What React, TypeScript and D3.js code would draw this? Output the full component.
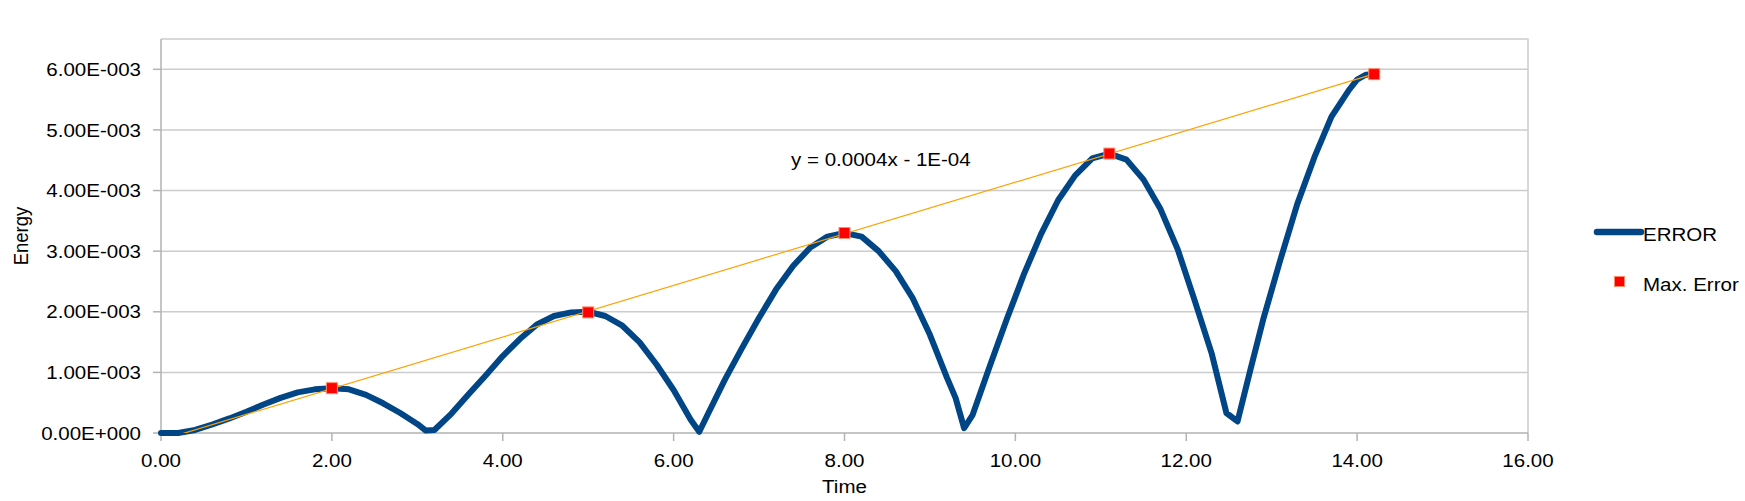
import * as d3 from "d3"
import { useEffect, useRef } from "react"

// ERROR series (energy in units of 1E-003)
const time = [
    0.0, 0.2, 0.4, 0.6, 0.8, 1.0, 1.2, 1.4, 1.6, 1.8, 2.0, 2.2, 2.4, 2.6, 2.8, 3.0, 3.1, 3.2,
    3.4, 3.6, 3.8, 4.0, 4.2, 4.4, 4.6, 4.8, 5.0, 5.2, 5.4, 5.6, 5.8, 6.0, 6.2, 6.3,
    6.4, 6.6, 6.8, 7.0, 7.2, 7.4, 7.6, 7.8, 8.0, 8.2, 8.4, 8.6, 8.8, 9.0, 9.2, 9.3, 9.4,
    9.5, 9.7, 9.9, 10.1, 10.3, 10.5, 10.7, 10.9, 11.1, 11.3, 11.5, 11.7, 11.9, 12.1, 12.3, 12.47, 12.6,
    12.75, 12.9, 13.1, 13.3, 13.5, 13.7, 13.9, 14.0, 14.1, 14.2,
]
const errorE3 = [
    0.00, 0.00, 0.05, 0.14, 0.24, 0.35, 0.47, 0.58, 0.67, 0.72, 0.74, 0.72, 0.63, 0.49, 0.33, 0.15, 0.04, 0.05,
    0.32, 0.64, 0.95, 1.27, 1.55, 1.79, 1.93, 1.99, 2.00, 1.93, 1.77, 1.50, 1.13, 0.71, 0.22, 0.02,
    0.31, 0.88, 1.40, 1.90, 2.37, 2.76, 3.06, 3.24, 3.30, 3.24, 3.00, 2.67, 2.22, 1.62, 0.91, 0.58, 0.08,
    0.30, 1.10, 1.88, 2.62, 3.28, 3.84, 4.25, 4.53, 4.61, 4.51, 4.18, 3.69, 3.03, 2.18, 1.30, 0.33, 0.19,
    1.04, 1.87, 2.85, 3.78, 4.55, 5.22, 5.65, 5.83, 5.91, 5.92,
]

// Max. Error series
const maxTime = [2.0, 5.0, 8.0, 11.1, 14.2]
const maxErrorE3 = [0.74, 1.99, 3.30, 4.61, 5.92]

const xTicks = [0, 2, 4, 6, 8, 10, 12, 14, 16]
const xTickLabels = ["0.00", "2.00", "4.00", "6.00", "8.00", "10.00", "12.00", "14.00", "16.00"]
const yTicks = [0, 1, 2, 3, 4, 5, 6]
const yTickLabels = ["0.00E+000", "1.00E-003", "2.00E-003", "3.00E-003", "4.00E-003", "5.00E-003", "6.00E-003"]

const seriesNames = ["ERROR", "Max. Error"]
const trendLabel = "y = 0.0004x - 1E-04"

export default function App() {
    const svgRef = useRef<SVGSVGElement>(null)

    useEffect(() => {
        document.body.style.margin = "0"
        const width = 1745
        const height = 501
        const left = 161, right = 1528, top = 39, bottom = 433
        const stretch = 1.11
        const font = "'Liberation Sans', Arial, sans-serif"
        const fontSize = 18.5

        const xScale = d3.scaleLinear([0, 16], [left, right])
        const yScale = d3.scaleLinear([0, 6.5], [bottom, top])

        if (svgRef.current !== null) {
            svgRef.current.innerHTML = ""
        }

        const svg = d3.select(svgRef.current)
            .attr("width", width)
            .attr("height", height)
            .attr("viewBox", [0, 0, width, height])
            .style("display", "block")
            .style("background", "#fff")

        const label = (x: number, y: number, txt: string, anchor = "start", rotate = false) =>
            svg.append("text")
                .attr("transform", `translate(${x},${y}) scale(${stretch},1)${rotate ? " rotate(-90)" : ""}`)
                .attr("text-anchor", anchor)
                .attr("font-family", font)
                .attr("font-size", fontSize)
                .attr("fill", "#000")
                .text(txt)

        svg.append("defs").append("clipPath").attr("id", "plot-clip")
            .append("rect")
            .attr("x", left).attr("y", top)
            .attr("width", right - left).attr("height", bottom - top)

        // grid + frame
        svg.append("g")
            .attr("stroke", "#cccccc")
            .attr("stroke-width", 1.5)
            .selectAll("line")
            .data(yTicks.filter(t => t > 0))
            .join("line")
            .attr("x1", left).attr("x2", right)
            .attr("y1", d => yScale(d)).attr("y2", d => yScale(d))
        svg.append("path")
            .attr("d", `M${left},${top}H${right}V${bottom}`)
            .attr("fill", "none")
            .attr("stroke", "#cccccc")
            .attr("stroke-width", 1.5)

        // axes
        svg.append("path")
            .attr("d", `M${left},${top}V${bottom}H${right}`)
            .attr("fill", "none")
            .attr("stroke", "#b3b3b3")
            .attr("stroke-width", 1.5)
        svg.append("g")
            .attr("stroke", "#b3b3b3")
            .attr("stroke-width", 1.5)
            .selectAll("line")
            .data(yTicks)
            .join("line")
            .attr("x1", left - 8).attr("x2", left)
            .attr("y1", d => yScale(d)).attr("y2", d => yScale(d))
        svg.append("g")
            .attr("stroke", "#b3b3b3")
            .attr("stroke-width", 1.5)
            .selectAll("line")
            .data(xTicks)
            .join("line")
            .attr("x1", d => xScale(d)).attr("x2", d => xScale(d))
            .attr("y1", bottom).attr("y2", bottom + 8)

        yTicks.forEach((t, i) => label(141, yScale(t) + 6.6, yTickLabels[i], "end"))
        xTicks.forEach((t, i) => label(xScale(t), bottom + 34, xTickLabels[i], "middle"))
        label((left + right) / 2, 493, "Time", "middle")
        label(28, (top + bottom) / 2, "Energy", "middle", true)

        // ERROR line
        const line = d3.line<number>()
            .x((_, i) => xScale(time[i]))
            .y(d => yScale(d))
        svg.append("path")
            .datum(errorE3)
            .attr("d", line)
            .attr("fill", "none")
            .attr("stroke", "#004586")
            .attr("stroke-width", 6)
            .attr("stroke-linejoin", "round")
            .attr("stroke-linecap", "round")

        // linear trend line of the max. error points
        const mx = d3.mean(maxTime)!
        const my = d3.mean(maxErrorE3)!
        const slope = d3.sum(maxTime, (x, i) => (x - mx) * (maxErrorE3[i] - my)) /
            d3.sum(maxTime, x => (x - mx) ** 2)
        const intercept = my - slope * mx
        const xEnd = d3.max(maxTime)!
        svg.append("line")
            .attr("clip-path", "url(#plot-clip)")
            .attr("x1", xScale(0)).attr("y1", yScale(intercept))
            .attr("x2", xScale(xEnd)).attr("y2", yScale(intercept + slope * xEnd))
            .attr("stroke", "#ffa200")
            .attr("stroke-width", 1.2)

        const size = 11
        svg.append("g")
            .selectAll("rect")
            .data(maxErrorE3)
            .join("rect")
            .attr("x", (_, i) => xScale(maxTime[i]) - size / 2)
            .attr("y", d => yScale(d) - size / 2)
            .attr("width", size).attr("height", size)
            .attr("fill", "#ff0000")
            .attr("stroke", "#ff8c69")
            .attr("stroke-width", 1)

        label(791, 166, trendLabel)

        // legend
        svg.append("line")
            .attr("x1", 1597).attr("x2", 1641)
            .attr("y1", 232).attr("y2", 232)
            .attr("stroke", "#004586")
            .attr("stroke-width", 6.5)
            .attr("stroke-linecap", "round")
        label(1643, 240.5, seriesNames[0])
        svg.append("rect")
            .attr("x", 1619.5 - 5).attr("y", 281.5 - 5)
            .attr("width", 10).attr("height", 10)
            .attr("fill", "#ff0000")
            .attr("stroke", "#ff8c69")
            .attr("stroke-width", 1)
        label(1643, 290.5, seriesNames[1])
    }, [])

    return <>
        <svg ref={svgRef}></svg>
    </>
}
